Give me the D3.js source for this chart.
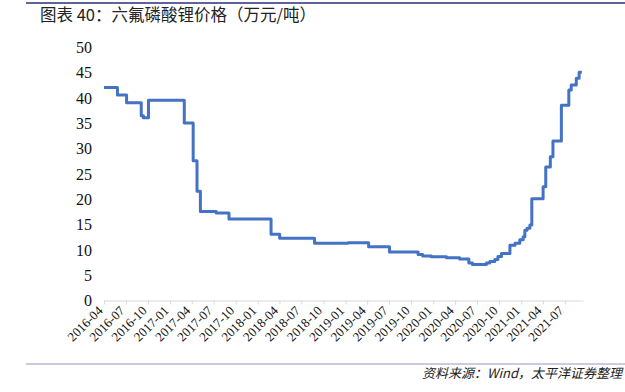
<!DOCTYPE html>
<html><head><meta charset="utf-8">
<script src="https://cdn.jsdelivr.net/npm/d3@7"></script>
<style>body{margin:0;background:#fff}svg{display:block}</style>
</head><body>
<svg id="c" width="625" height="392"></svg>
<script>
const title = "图表 40：六氟磷酸锂价格（万元/吨）";
const source = "资料来源：Wind，太平洋证券整理";
const dates = ["2016-04-01","2016-05-27","2016-07-04","2016-09-03","2016-09-12","2016-10-03",
 "2017-03-01","2017-04-07","2017-04-23","2017-05-07","2017-07-12","2017-09-03",
 "2018-02-25","2018-04-02","2018-08-25","2019-01-11","2019-04-07","2019-07-03",
 "2019-10-30","2019-11-18","2019-12-24","2020-02-25","2020-04-20","2020-05-28","2020-06-12",
 "2020-08-09","2020-08-23","2020-09-13","2020-09-26","2020-10-11","2020-11-15","2020-12-06",
 "2020-12-26","2021-01-09","2021-01-16","2021-01-25","2021-02-06","2021-02-14","2021-04-02",
 "2021-04-13","2021-05-02","2021-05-13","2021-06-17","2021-07-18","2021-07-28","2021-08-18",
 "2021-08-30","2021-09-10"];
const prices = [42,40.5,39,36.4,36,39.5,
 35,27.5,21.5,17.5,17.2,16,
 13,12.2,11.2,11.3,10.5,9.5,
 9,8.7,8.55,8.35,8.1,7.3,7,
 7.3,7.6,8,8.6,9.2,10.8,11.2,
 11.9,12.5,13.8,14.2,14.8,20,22.4,
 26.3,28.3,31.4,38.5,41.5,42.5,43.8,
 45,45];
const yTicks = [0,5,10,15,20,25,30,35,40,45,50];
const xTickLabels = ["2016-04","2016-07","2016-10","2017-01","2017-04","2017-07","2017-10",
 "2018-01","2018-04","2018-07","2018-10","2019-01","2019-04","2019-07","2019-10",
 "2020-01","2020-04","2020-07","2020-10","2021-01","2021-04","2021-07"];

const parse = d3.timeParse("%Y-%m-%d");
const parseM = d3.timeParse("%Y-%m");
const data = dates.map((d,i)=>({date:parse(d), v:prices[i]}));

const svg = d3.select("#c");
const x = d3.scaleTime().domain([parse("2016-04-01"), parse("2021-09-15")]).range([104, 583]);
const y = d3.scaleLinear().domain([0,50]).range([300, 47]);
const SERIF = "'Liberation Serif', 'Times New Roman', serif";

svg.append("line").attr("x1",26).attr("x2",625).attr("y1",3).attr("y2",3)
  .attr("stroke","#5f6399").attr("stroke-width",2);
svg.append("line").attr("x1",26).attr("x2",625).attr("y1",364).attr("y2",364)
  .attr("stroke","#b9b9d9").attr("stroke-width",1.5);

svg.append("text").attr("x",40).attr("y",21).text(title)
  .style("font-family","'Noto Sans CJK SC'").style("font-size","16.5px").attr("fill","#222");

svg.append("text").attr("x",622).attr("y",378).attr("text-anchor","end").text(source)
  .style("font-family","'Noto Sans CJK SC'").style("font-size","13px").style("font-style","italic").attr("fill","#222");

const yAxis = d3.axisLeft(y).tickValues(yTicks).tickSize(0).tickPadding(0);
const gy = svg.append("g").attr("transform","translate(92,0)").call(yAxis);
gy.select(".domain").remove();
gy.selectAll("text").style("font-family",SERIF).style("font-size","16px").attr("fill","#111").attr("dy","0.35em");

const xAxis = d3.axisBottom(x).tickValues(xTickLabels.map(parseM)).tickSize(4).tickSizeOuter(0)
  .tickFormat(d3.timeFormat("%Y-%m"));
const gx = svg.append("g").attr("transform","translate(0,300.5)").call(xAxis);
gx.select(".domain").attr("stroke","#d9d9d9");
gx.selectAll(".tick line").attr("stroke","#d9d9d9");
gx.selectAll("text").style("font-family",SERIF).style("font-size","13px").attr("fill","#111")
  .attr("text-anchor","end").attr("x",0).attr("y",0).attr("dy",0)
  .attr("transform","translate(-1,11) rotate(-45)");

const line = d3.line().x(d=>x(d.date)).y(d=>y(d.v)).curve(d3.curveStepAfter);
svg.append("path").datum(data).attr("d",line).attr("fill","none")
  .attr("stroke","#4472c4").attr("stroke-width",3).attr("stroke-linejoin","round");
</script>
</body></html>
